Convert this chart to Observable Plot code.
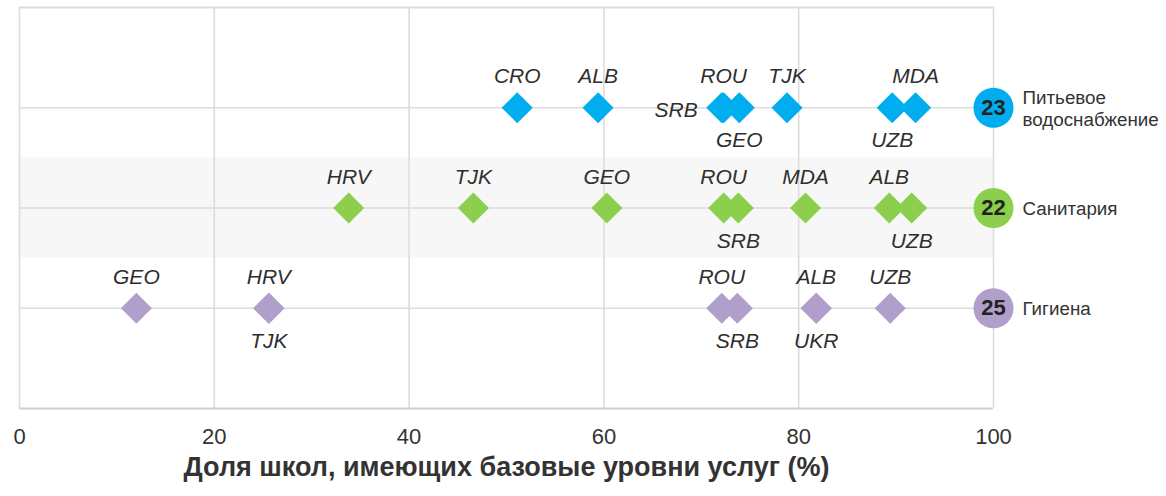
<!DOCTYPE html>
<html>
<head>
<meta charset="utf-8">
<script src="https://cdn.jsdelivr.net/npm/d3@7"></script>
<script src="https://cdn.jsdelivr.net/npm/@observablehq/plot@0.6"></script>
<style>
  html, body { margin: 0; padding: 0; background: #fff; }
  #chart svg { display: block; overflow: hidden; }
</style>
</head>
<body>
<div id="chart"></div>
<script>
// ---- Data ----
const services = ["Питьевое\nводоснабжение", "Санитария", "Гигиена"];
const serviceCounts = [23, 22, 25];
const serviceColors = ["#00aeef", "#8ccf4d", "#b09fca"];

const waterCountries = ["CRO", "ALB", "SRB", "ROU", "GEO", "TJK", "UZB", "MDA"];
const waterValues    = [51.1, 59.4, 72.1, 72.3, 73.9, 78.8, 89.6, 92.0];
const waterLabelSide = ["above", "above", "left", "above", "below", "above", "below", "above"];

const sanitCountries = ["HRV", "TJK", "GEO", "ROU", "SRB", "MDA", "ALB", "UZB"];
const sanitValues    = [33.8, 46.6, 60.3, 72.3, 73.8, 80.7, 89.3, 91.6];
const sanitLabelSide = ["above", "above", "above", "above", "below", "above", "above", "below"];

const hygCountries = ["GEO", "HRV", "TJK", "ROU", "SRB", "ALB", "UKR", "UZB"];
const hygValues    = [12.0, 25.6, 25.6, 72.1, 73.7, 81.8, 81.8, 89.4];
const hygLabelSide = ["above", "above", "below", "above", "below", "above", "below", "above"];

const xTicks = [0, 20, 40, 60, 80, 100];
const axisTitle = "Доля школ, имеющих базовые уровни услуг (%)";

// ---- Build tables ----
const rows = [
  {countries: waterCountries, values: waterValues, sides: waterLabelSide},
  {countries: sanitCountries, values: sanitValues, sides: sanitLabelSide},
  {countries: hygCountries, values: hygValues, sides: hygLabelSide}
];
const points = rows.flatMap((r, i) => r.countries.map((c, j) => ({
  country: c, value: r.values[j], side: r.sides[j], row: i + 1, color: serviceColors[i]
})));
const summary = services.map((s, i) => ({service: s, count: serviceCounts[i], row: i + 1, color: serviceColors[i]}));

const font = "'Liberation Sans', Arial, sans-serif";
const grid = "#dcdcdc";
const lab = {fontSize: 21, fontStyle: "italic", fill: "#2e2e2e", letterSpacing: "1.5px"};

const chart = Plot.plot({
  width: 1166,
  height: 496,
  marginLeft: 19,
  marginRight: 173,
  marginTop: 7,
  marginBottom: 88,
  style: {fontFamily: font, background: "#fff"},
  x: {domain: [0, 100]},
  y: {domain: [0, 4], reverse: true, axis: null},
  marks: [
    Plot.rect([0], {x1: 0, x2: 100, y1: 1.5, y2: 2.5, fill: "#f7f7f7"}),
    Plot.ruleY([1, 2, 3], {stroke: grid, strokeWidth: 1.6}),
    Plot.ruleX(xTicks, {stroke: grid, strokeWidth: 1.6}),
    Plot.ruleY([0], {stroke: grid, strokeWidth: 2}),
    Plot.ruleY([4], {stroke: "#cfcfcf", strokeWidth: 2}),
    Plot.axisX({ticks: xTicks, tickSize: 0, tickPadding: 20, fontSize: 22, color: "#333", label: null}),
    Plot.text([axisTitle], {frameAnchor: "bottom", dy: 67, fontSize: 27, fontWeight: "bold", fill: "#333"}),
    Plot.dot(points, {x: "value", y: "row", symbol: "diamond2", r: 14, fill: "color", stroke: null}),
    Plot.text(points.filter(d => d.side === "above"), {x: "value", y: "row", text: "country", dy: -31, ...lab}),
    Plot.text(points.filter(d => d.side === "below"), {x: "value", y: "row", text: "country", dy: 33, ...lab}),
    Plot.text(points.filter(d => d.side === "left"), {x: "value", y: "row", text: "country", dx: -24, dy: 3, textAnchor: "end", ...lab}),
    Plot.dot(summary, {x: () => 100, y: "row", r: 20, fill: "color", stroke: null}),
    Plot.text(summary, {x: () => 100, y: "row", text: d => String(d.count), fontSize: 22, fontWeight: "bold", fill: "#222"}),
    Plot.text(summary, {x: () => 100, y: "row", text: "service", dx: 29, textAnchor: "start", fontSize: 18.8, fill: "#333", lineHeight: 1.2})
  ]
});
document.getElementById("chart").appendChild(chart);
</script>
</body>
</html>
